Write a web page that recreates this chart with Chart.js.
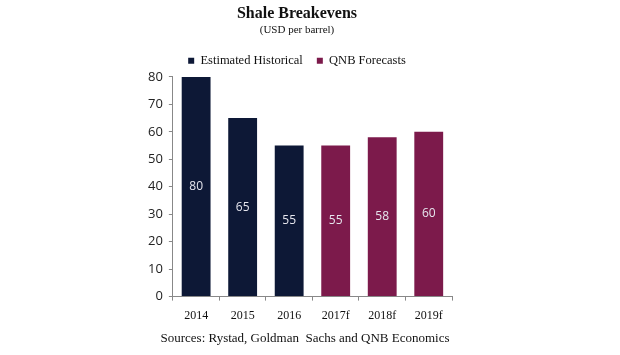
<!DOCTYPE html>
<html><head><meta charset="utf-8">
<script src="https://cdn.jsdelivr.net/npm/chart.js@4/dist/chart.umd.min.js"></script>
<style>html,body{margin:0;padding:0;background:#fff}#wrap{width:620px;height:355px}</style>
</head><body><div id="wrap"><canvas id="c" width="620" height="355"></canvas></div>
<script>
const categories = ["2014","2015","2016","2017f","2018f","2019f"];
const historical = [80,65,55,null,null,null];
const forecasts = [null,null,null,55,58,60];
const yTickStep = 10;
const yMax = 80;
const sourceText = "Sources: Rystad, Goldman  Sachs and QNB Economics";

const serif = "'Liberation Serif', 'DejaVu Serif', serif";
const sans = "'Open Sans', 'Liberation Sans', sans-serif";

const barLabels = {
  id:'barLabels',
  afterDatasetsDraw(chart){
    const ctx = chart.ctx;
    ctx.save();
    ctx.font = "12px " + sans;
    ctx.fillStyle = "#e6e6ee";
    ctx.textAlign = "center";
    ctx.textBaseline = "middle";
    chart.data.datasets.forEach((ds,di)=>{
      chart.getDatasetMeta(di).data.forEach((el,i)=>{
        const v = ds.data[i];
        if(v==null) return;
        const p = el.getProps(['x','y','base'],true);
        ctx.fillText(String(v), p.x, (p.y+p.base)/2);
      });
    });
    ctx.restore();
  }
};
const sources = {
  id:'sources',
  afterDraw(chart){
    const ctx = chart.ctx;
    ctx.save();
    ctx.font = "13px " + serif;
    ctx.fillStyle = "#111";
    ctx.textAlign = "center";
    ctx.textBaseline = "middle";
    ctx.fillText(sourceText, 305, 339);
    ctx.restore();
  }
};

new Chart(document.getElementById('c'), {
  type:'bar',
  data:{
    labels: categories,
    datasets:[
      {label:'Estimated Historical', data: historical, backgroundColor:'#0d1836', barPercentage:0.62, categoryPercentage:1},
      {label:'QNB Forecasts', data: forecasts, backgroundColor:'#7c1a4b', barPercentage:0.62, categoryPercentage:1}
    ]
  },
  options:{
    responsive:false,
    animation:false,
    devicePixelRatio:1,
    layout:{padding:{left:142,right:168,top:2,bottom:24}},
    plugins:{
      title:{display:true,text:'Shale Breakevens',color:'#111',font:{family:serif,size:16,weight:'bold'},padding:{top:2,bottom:0}},
      subtitle:{display:true,text:'(USD per barrel)',color:'#111',font:{family:serif,size:11},padding:{top:0,bottom:4}},
      legend:{display:true,labels:{boxWidth:6,boxHeight:6,color:'#111',font:{family:serif,size:12.5},padding:14}},
      tooltip:{enabled:false}
    },
    scales:{
      x:{stacked:true,
        grid:{display:true,drawOnChartArea:false,drawTicks:true,tickLength:4,color:'#888',offset:true},
        border:{display:true,color:'#888'},
        ticks:{color:'#111',font:{family:serif,size:12},padding:8}
      },
      y:{stacked:true,min:0,max:yMax,
        grid:{display:true,drawOnChartArea:false,drawTicks:true,tickLength:4,color:'#888'},
        border:{display:true,color:'#888'},
        ticks:{stepSize:yTickStep,color:'#222',font:{family:sans,size:13},padding:6}
      }
    }
  },
  plugins:[barLabels,sources]
});
</script></body></html>
